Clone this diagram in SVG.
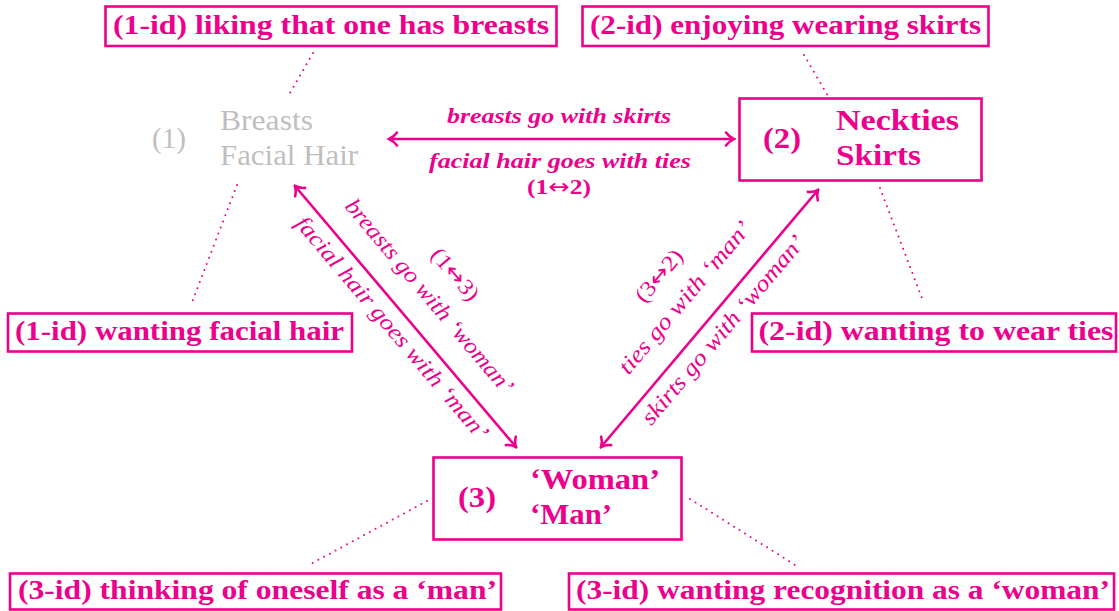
<svg xmlns="http://www.w3.org/2000/svg" width="1119" height="611" viewBox="0 0 1119 611">
<style>
.bx{fill:none;stroke:#EC008C;stroke-width:2.6}
.t{font-family:"Liberation Serif","DejaVu Serif",serif;fill:#EC008C}
.lb{font-weight:bold;font-size:27px}
.nd{font-weight:bold;font-size:29px}
.gr{font-family:"Liberation Serif","DejaVu Serif",serif;fill:#BFBFBF;font-size:29px}
.el{font-weight:bold;font-style:italic;font-size:21px}
.dl{font-style:italic;font-size:23px}
.dp{font-size:22px}
.ep{font-weight:bold;font-size:21px}
.aw{font-family:"DejaVu Sans",sans-serif;font-weight:normal}
.ar{fill:none;stroke:#EC008C;stroke-width:2.6;marker-start:url(#ah);marker-end:url(#ah)}
.dt{fill:none;stroke:#EC008C;stroke-width:2;stroke-linecap:round;stroke-dasharray:0 6.5}
</style>
<defs>
<marker id="ah" markerUnits="userSpaceOnUse" viewBox="-12 -9 14 18" refX="0" refY="0" markerWidth="14" markerHeight="18" orient="auto-start-reverse">
<path d="M -8 -6.5 C -5.5 -3 -2.5 -1 0 0 C -2.5 1 -5.5 3 -8 6.5" fill="none" stroke="#EC008C" stroke-width="2.6" stroke-linecap="round"/>
</marker>
</defs>

<g id="connectors">
<line class="ar" x1="389" y1="139" x2="734" y2="139"/>
<line class="ar" x1="295" y1="186" x2="516" y2="447"/>
<line class="ar" x1="601" y1="447" x2="818" y2="190"/>
<line class="dt" x1="313" y1="53" x2="287" y2="98"/>
<line class="dt" x1="804" y1="55" x2="828" y2="96"/>
<line class="dt" x1="237" y1="185" x2="191" y2="305"/>
<line class="dt" x1="880" y1="188" x2="923" y2="301"/>
<line class="dt" x1="427" y1="501" x2="307" y2="566"/>
<line class="dt" x1="690" y1="499" x2="800" y2="568"/>
<text class="t el" x="559" y="123" text-anchor="middle" textLength="224" lengthAdjust="spacingAndGlyphs">breasts go with skirts</text>
<text class="t el" x="560" y="168" text-anchor="middle" textLength="262" lengthAdjust="spacingAndGlyphs">facial hair goes with ties</text>
<text class="t ep" x="559" y="194" text-anchor="middle" textLength="64" lengthAdjust="spacingAndGlyphs">(1<tspan class="aw">↔</tspan>2)</text>
<text class="t dl" x="423.8" y="301" text-anchor="middle" textLength="247" lengthAdjust="spacingAndGlyphs" transform="rotate(49.7 423.8 301)">breasts go with ‘woman’</text>
<text class="t dl" x="386.4" y="332.7" text-anchor="middle" textLength="285" lengthAdjust="spacingAndGlyphs" transform="rotate(49.7 386.4 332.7)">facial hair goes with ‘man’</text>
<text class="t dp" x="449.8" y="279" text-anchor="middle" textLength="62" lengthAdjust="spacingAndGlyphs" transform="rotate(49.7 449.8 279)">(1<tspan class="aw">↔</tspan>3)</text>
<text class="t dl" x="690.4" y="302.3" text-anchor="middle" textLength="192" lengthAdjust="spacingAndGlyphs" transform="rotate(-49.8 690.4 302.3)">ties go with ‘man’</text>
<text class="t dl" x="728.6" y="334.7" text-anchor="middle" textLength="240" lengthAdjust="spacingAndGlyphs" transform="rotate(-49.8 728.6 334.7)">skirts go with ‘woman’</text>
<text class="t dp" x="664.4" y="280.4" text-anchor="middle" textLength="62" lengthAdjust="spacingAndGlyphs" transform="rotate(-49.8 664.4 280.4)">(3<tspan class="aw">↔</tspan>2)</text>
</g>

<g id="node1">
<text class="gr" x="152" y="148" textLength="34" lengthAdjust="spacingAndGlyphs">(1)</text>
<text class="gr" x="220" y="130" textLength="93" lengthAdjust="spacingAndGlyphs">Breasts</text>
<text class="gr" x="220" y="165" textLength="138" lengthAdjust="spacingAndGlyphs">Facial Hair</text>
</g>

<g id="node2">
<rect class="bx" x="739.5" y="98.5" width="242" height="82"/>
<text class="t nd" x="763" y="148" textLength="38" lengthAdjust="spacingAndGlyphs">(2)</text>
<text class="t nd" x="836" y="130" textLength="123" lengthAdjust="spacingAndGlyphs">Neckties</text>
<text class="t nd" x="836" y="165" textLength="85" lengthAdjust="spacingAndGlyphs">Skirts</text>
</g>

<g id="node3">
<rect class="bx" x="433.5" y="457.5" width="248" height="82"/>
<text class="t nd" x="458" y="507" textLength="38" lengthAdjust="spacingAndGlyphs">(3)</text>
<text class="t nd" x="530" y="489" textLength="130" lengthAdjust="spacingAndGlyphs">‘Woman’</text>
<text class="t nd" x="530" y="524" textLength="82" lengthAdjust="spacingAndGlyphs">‘Man’</text>
</g>

<g id="id1a">
<rect class="bx" x="105.5" y="6.5" width="451" height="39.5"/>
<text class="t lb" x="113" y="34" textLength="436" lengthAdjust="spacingAndGlyphs">(1-id) liking that one has breasts</text>
</g>
<g id="id2a">
<rect class="bx" x="582.5" y="6.5" width="406" height="39.5"/>
<text class="t lb" x="590" y="34" textLength="391" lengthAdjust="spacingAndGlyphs">(2-id) enjoying wearing skirts</text>
</g>
<g id="id1b">
<rect class="bx" x="8" y="313.5" width="344" height="38"/>
<text class="t lb" x="15" y="340" textLength="329" lengthAdjust="spacingAndGlyphs">(1-id) wanting facial hair</text>
</g>
<g id="id2b">
<rect class="bx" x="752" y="313.5" width="364" height="38"/>
<text class="t lb" x="758.5" y="340" textLength="355" lengthAdjust="spacingAndGlyphs">(2-id) wanting to wear ties</text>
</g>
<g id="id3a">
<rect class="bx" x="10" y="573.5" width="491" height="36"/>
<text class="t lb" x="18" y="599" textLength="479" lengthAdjust="spacingAndGlyphs">(3-id) thinking of oneself as a ‘man’</text>
</g>
<g id="id3b">
<rect class="bx" x="569" y="573.5" width="545" height="36"/>
<text class="t lb" x="576" y="599" textLength="534" lengthAdjust="spacingAndGlyphs">(3-id) wanting recognition as a ‘woman’</text>
</g>
</svg>
